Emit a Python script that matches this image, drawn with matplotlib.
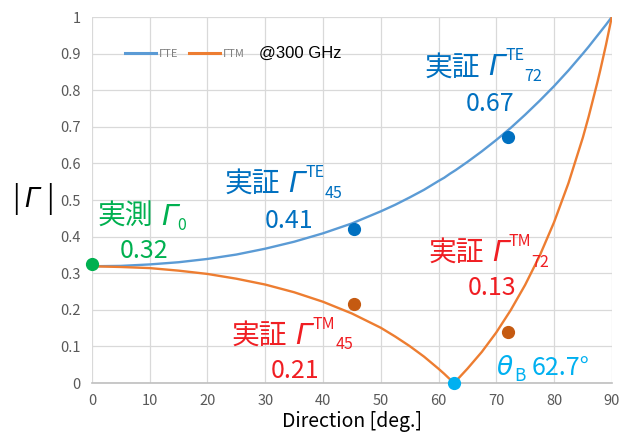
import matplotlib
matplotlib.use('Agg')
import matplotlib.pyplot as plt
import matplotlib.transforms as mtransforms
from matplotlib.lines import Line2D

plt.rcParams['font.family'] = ['Noto Sans CJK JP', 'DejaVu Sans']

# reflection curves (angle in deg, |Gamma|)
angle = [0, 5, 10, 15, 20, 25, 30, 35, 40, 45, 50, 52.5, 55, 57.5, 60, 61,
         62, 62.7, 63, 64, 65, 67.5, 70, 72.5, 75, 77.5, 80, 82.5, 85, 86,
         87.5, 88, 89, 90]
gamma_te = [0.319, 0.320, 0.324, 0.330, 0.339, 0.351, 0.367, 0.386, 0.409,
            0.436, 0.469, 0.487, 0.507, 0.528, 0.552, 0.561, 0.572, 0.579,
            0.582, 0.593, 0.604, 0.633, 0.664, 0.697, 0.733, 0.771, 0.811,
            0.854, 0.900, 0.919, 0.949, 0.959, 0.979, 1.0]
gamma_tm = [0.319, 0.317, 0.314, 0.307, 0.298, 0.285, 0.269, 0.248, 0.222,
            0.190, 0.151, 0.127, 0.101, 0.072, 0.039, 0.025, 0.010, 0.0,
            0.005, 0.022, 0.039, 0.085, 0.138, 0.199, 0.268, 0.347, 0.439,
            0.546, 0.671, 0.728, 0.821, 0.854, 0.924, 1.0]

# measured points
meas_te_x = [45.3, 72.0]
meas_te_y = [0.421, 0.672]
meas_tm_x = [45.3, 72.0]
meas_tm_y = [0.216, 0.139]
normal_x, normal_y = 0, 0.325
brewster_x, brewster_y = 62.7, 0.0

BLUE_LINE = '#5B9BD5'
ORANGE_LINE = '#ED7D31'
BLUE = '#0070C0'
BROWN = '#C55A11'
GREEN = '#00B050'
RED = '#F01E23'
CYAN = '#00B0F0'

fig = plt.figure(figsize=(6.27, 4.32), dpi=100)
ax = fig.add_axes([0.1467, 0.1134, 0.829, 0.8472])
renderer = fig.canvas.get_renderer()


def rich(x, y, parts, color):
    # parts: (text, size, rise in points, italic, gap before in points)
    dx = 0.0
    for s, size, rise, italic, gap in parts:
        dx += gap
        tr = mtransforms.offset_copy(ax.transData, fig=fig, x=dx, y=rise,
                                     units='points')
        kw = {}
        if italic:
            kw = dict(style='italic', family='DejaVu Sans')
        t = ax.text(x, y, s, fontsize=size, color=color, transform=tr,
                    ha='left', va='baseline', clip_on=False, **kw)
        dx += t.get_window_extent(renderer).width * 72.0 / fig.dpi


def gamma_label(x, y, head, sup, sub, color):
    parts = [(head, 20, 0, False, 0), ('Γ', 21, 0, True, 6)]
    if sup:
        parts.append((sup, 11.5, 11, False, 0.5))
    parts.append((sub, 11.5, -4, False, 0))
    rich(x, y, parts, color)


ax.plot(angle, gamma_te, color=BLUE_LINE, lw=1.7, zorder=3)
ax.plot(angle, gamma_tm, color=ORANGE_LINE, lw=1.7, zorder=3)

ax.plot(meas_te_x, meas_te_y, 'o', color=BLUE, ms=8.5, zorder=4, clip_on=False)
ax.plot(meas_tm_x, meas_tm_y, 'o', color=BROWN, ms=8.5, zorder=4, clip_on=False)
ax.plot([normal_x], [normal_y], 'o', color=GREEN, ms=8.5, zorder=4, clip_on=False)
ax.plot([brewster_x], [brewster_y], 'o', color=CYAN, ms=8.5, zorder=4,
        clip_on=False)

ax.set_xlim(0, 90)
ax.set_ylim(0, 1)
ax.set_xticks(range(0, 91, 10))
ax.set_yticks([i / 10 for i in range(11)])
ax.set_yticklabels(['0', '0.1', '0.2', '0.3', '0.4', '0.5', '0.6', '0.7',
                    '0.8', '0.9', '1'])
ax.tick_params(length=0, labelsize=10.5, labelcolor='#595959', pad=8)
ax.grid(True, color='#D9D9D9', lw=0.9)
ax.set_axisbelow(True)
for s in ['top', 'right', 'left']:
    ax.spines[s].set_visible(False)
ax.spines['bottom'].set_color('#BFBFBF')
ax.spines['bottom'].set_linewidth(1.2)

ax.set_xlabel('Direction [deg.]', fontsize=14, labelpad=2)
rich(-13.9, 0.48, [('|', 20, 0, False, 0), ('Γ', 19, 0, True, 4),
                   ('|', 20, 0, False, 5)], 'black')

# legend
handles = [Line2D([], [], color=BLUE_LINE, lw=2.2),
           Line2D([], [], color=ORANGE_LINE, lw=2.2)]
ax.legend(handles, ['ΓTE', 'ΓTM'], loc='center left',
          bbox_to_anchor=(0.045, 0.9), ncol=2, frameon=False, fontsize=8,
          labelcolor='#7F7F7F', handlelength=2.8, handletextpad=0.2,
          columnspacing=1.0)
ax.text(29.0, 0.9, '@300 GHz', fontsize=12, va='center', ha='left',
        family='Liberation Sans')

num = 18
gamma_label(0.9, 0.432, '実測', None, '0', GREEN)
ax.text(4.8, 0.342, '0.32', color=GREEN, fontsize=num)
gamma_label(23.0, 0.522, '実証', 'TE', '45', BLUE)
ax.text(29.9, 0.423, '0.41', color=BLUE, fontsize=num)
gamma_label(57.6, 0.841, '実証', 'TE', '72', BLUE)
ax.text(64.7, 0.743, '0.67', color=BLUE, fontsize=num)
gamma_label(58.2, 0.333, '実証', 'TM', '72', RED)
ax.text(65.1, 0.240, '0.13', color=RED, fontsize=num)
gamma_label(24.2, 0.107, '実証', 'TM', '45', RED)
ax.text(31.0, 0.014, '0.21', color=RED, fontsize=num)
rich(70.1, 0.022, [('θ', 19, 0, True, 0), ('B', 12.5, -4, False, 1),
                   ('62.7°', 18, 0, False, 4)], CYAN)

fig.savefig('out.png', dpi=100)
